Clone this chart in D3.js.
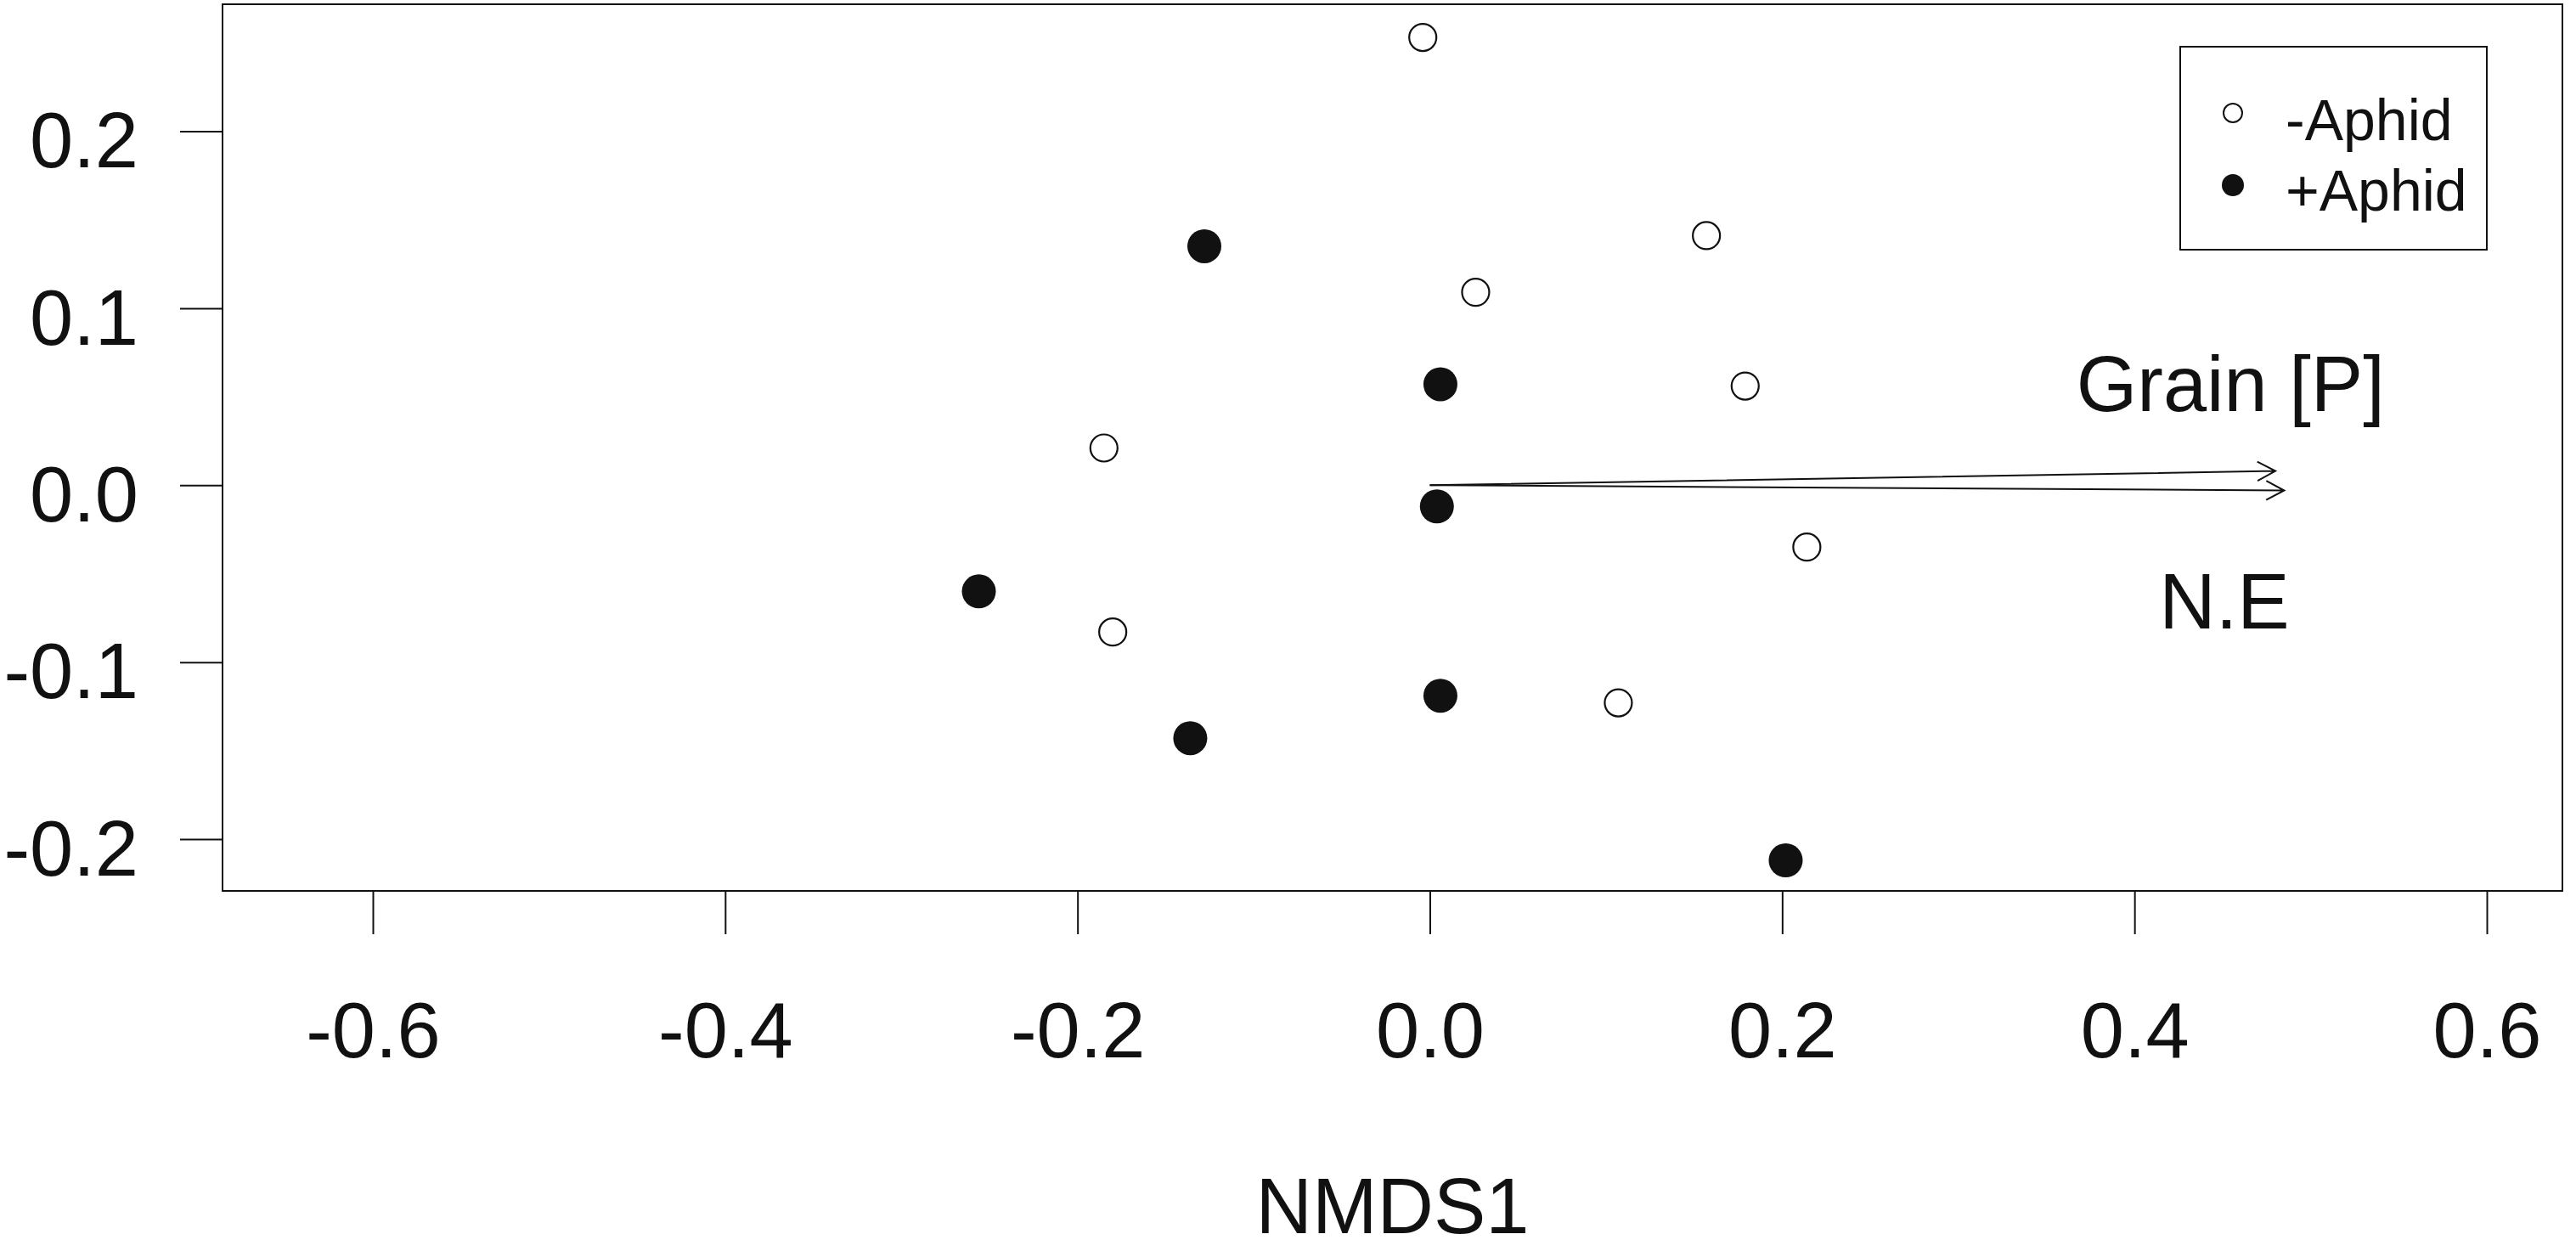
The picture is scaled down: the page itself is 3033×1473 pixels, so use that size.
<!DOCTYPE html>
<html>
<head>
<meta charset="utf-8">
<script src="https://cdn.jsdelivr.net/npm/d3@7"></script>
<style>
  body { margin: 0; background: #fff; }
  svg { display: block; font-family: "Liberation Sans", Arial, sans-serif; }
</style>
</head>
<body>
<svg id="chart"></svg>
<script>
const width = 3033;
const height = 1473;

// -Aphid samples (open circles)
const minusX = [-0.004, 0.157, 0.026, 0.179, -0.185, 0.214, -0.180, 0.107];
const minusY = [0.253, 0.141, 0.109, 0.056, 0.021, -0.035, -0.083, -0.123];

// +Aphid samples (filled circles)
const plusX = [-0.128, 0.006, 0.004, -0.256, 0.006, -0.136, 0.202];
const plusY = [0.135, 0.057, -0.012, -0.060, -0.119, -0.143, -0.212];

// environmental vectors
const vecNames = ["Grain [P]", "N.E"];
const vecX = [0.480, 0.485];
const vecY = [0.008, -0.003];
const vecLabelX = [0.4545, 0.451];
const vecLabelY = [0.058, -0.065];

const xTicks = [-0.6, -0.4, -0.2, 0.0, 0.2, 0.4, 0.6];
const yTicks = [-0.2, -0.1, 0.0, 0.1, 0.2];
const legendLabels = ["-Aphid", "+Aphid"];

const box = {left: 262, right: 3017, top: 5, bottom: 1049};
const fontSize = 92;

const svg = d3.select("#chart")
    .attr("width", width)
    .attr("height", height);

const x = d3.scaleLinear()
    .domain([-0.6, 0.6])
    .range([439, 2928]);

const y = d3.scaleLinear()
    .domain([-0.2, 0.2])
    .range([988, 154.5]);

const fmt = d => d3.format(".1f")(d).replace("−", "-");

// Axes
const yAxis = d3.axisLeft(y)
    .tickValues(yTicks)
    .tickFormat(fmt)
    .tickSize(50)
    .tickPadding(49);

const xAxis = d3.axisBottom(x)
    .tickValues(xTicks)
    .tickFormat(fmt)
    .tickSize(51)
    .tickPadding(80);

const gy = svg.append("g")
    .attr("transform", `translate(${box.left},0)`)
    .call(yAxis);

const gx = svg.append("g")
    .attr("transform", `translate(0,${box.bottom})`)
    .call(xAxis);

[gx, gy].forEach(g => {
    g.select(".domain").remove();
    g.selectAll(".tick line").attr("stroke", "#111").attr("stroke-width", 2);
    g.selectAll(".tick text")
        .attr("fill", "#111")
        .style("font-size", fontSize + "px")
        .style("font-family", "'Liberation Sans', Arial, sans-serif");
});
gy.selectAll(".tick text").attr("dy", "0.46em");

// Plot box
svg.append("rect")
    .attr("x", box.left)
    .attr("y", box.top)
    .attr("width", box.right - box.left)
    .attr("height", box.bottom - box.top)
    .attr("fill", "none")
    .attr("stroke", "#111")
    .attr("stroke-width", 2);

// x label
svg.append("text")
    .attr("x", (box.left + box.right) / 2)
    .attr("y", 1452)
    .attr("text-anchor", "middle")
    .style("font-size", fontSize + "px")
    .attr("fill", "#111")
    .text("NMDS1");

// Points
svg.append("g")
    .selectAll("circle")
    .data(d3.zip(minusX, minusY))
    .join("circle")
    .attr("cx", d => x(d[0]))
    .attr("cy", d => y(d[1]))
    .attr("r", 16)
    .attr("fill", "#fff")
    .attr("stroke", "#111")
    .attr("stroke-width", 2.2);

svg.append("g")
    .selectAll("circle")
    .data(d3.zip(plusX, plusY))
    .join("circle")
    .attr("cx", d => x(d[0]))
    .attr("cy", d => y(d[1]))
    .attr("r", 20)
    .attr("fill", "#111");

// Vectors with open arrow heads
const head = 24;
const ang = 28 * Math.PI / 180;
const vecs = d3.zip(vecNames, vecX, vecY, vecLabelX, vecLabelY);

svg.append("g")
    .selectAll("path")
    .data(vecs)
    .join("path")
    .attr("fill", "none")
    .attr("stroke", "#111")
    .attr("stroke-width", 2)
    .attr("d", d => {
        const x0 = x(0), y0 = y(0), x1 = x(d[1]), y1 = y(d[2]);
        const a = Math.atan2(y1 - y0, x1 - x0);
        const p = d3.path();
        p.moveTo(x0, y0);
        p.lineTo(x1, y1);
        p.moveTo(x1 - head * Math.cos(a - ang), y1 - head * Math.sin(a - ang));
        p.lineTo(x1, y1);
        p.lineTo(x1 - head * Math.cos(a + ang), y1 - head * Math.sin(a + ang));
        return p.toString();
    });

svg.append("g")
    .selectAll("text")
    .data(vecs)
    .join("text")
    .attr("x", d => x(d[3]))
    .attr("y", d => y(d[4]))
    .attr("dy", "0.36em")
    .attr("text-anchor", "middle")
    .style("font-size", fontSize + "px")
    .attr("fill", "#111")
    .text(d => d[0]);

// Legend
const legend = svg.append("g");

legend.append("rect")
    .attr("x", 2567)
    .attr("y", 55)
    .attr("width", 2928 - 2567)
    .attr("height", 294 - 55)
    .attr("fill", "#fff")
    .attr("stroke", "#111")
    .attr("stroke-width", 2);

const legendRows = legend.selectAll("g.row")
    .data(legendLabels)
    .join("g")
    .attr("class", "row")
    .attr("transform", (d, i) => `translate(2629,${133 + i * 85})`);

legendRows.append("circle")
    .attr("r", (d, i) => i === 0 ? 11 : 13)
    .attr("fill", (d, i) => i === 0 ? "#fff" : "#111")
    .attr("stroke", "#111")
    .attr("stroke-width", (d, i) => i === 0 ? 2 : 0);

legendRows.append("text")
    .attr("x", 62)
    .attr("y", (d, i) => i === 0 ? 32 : 30)
    .style("font-size", "68px")
    .attr("fill", "#111")
    .text(d => d);
</script>
</body>
</html>
